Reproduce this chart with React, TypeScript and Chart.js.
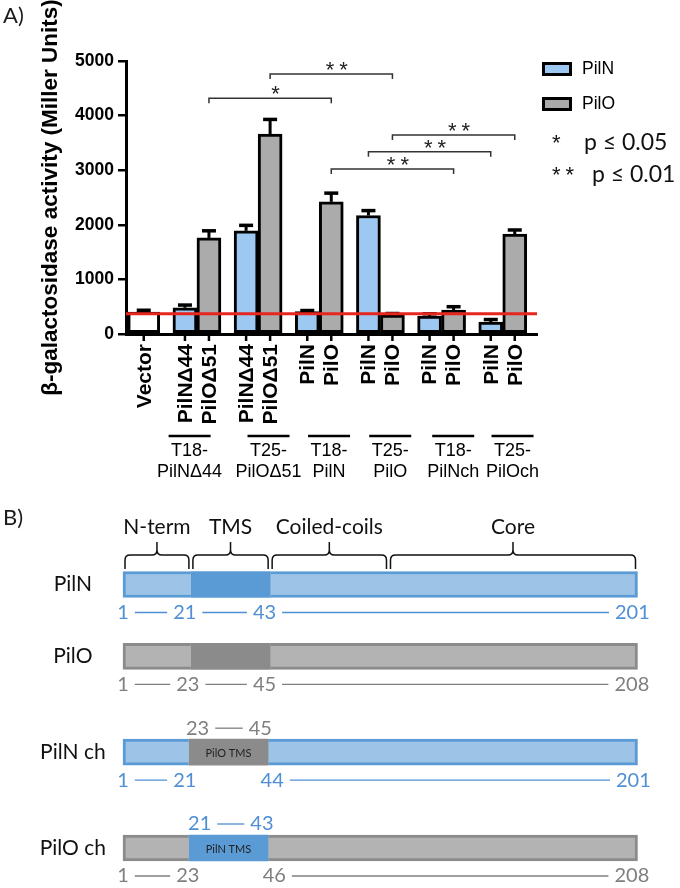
import React, { useEffect, useRef } from "react";
import { Chart, registerables } from "chart.js";

Chart.register(...registerables);

// ================= Panel A data =================
const vectorLabel = "Vector";
const vectorValues = [400];
const vectorErrors = [35];

const groupLabels = [
  ["T18-", "PilNΔ44"],
  ["T25-", "PilOΔ51"],
  ["T18-", "PilN"],
  ["T25-", "PilO"],
  ["T18-", "PilNch"],
  ["T25-", "PilOch"],
];
const pilNBarLabels = ["PilNΔ44", "PilNΔ44", "PilN", "PilN", "PilN", "PilN"];
const pilOBarLabels = ["PilOΔ51", "PilOΔ51", "PilO", "PilO", "PilO", "PilO"];
const pilNValues = [480, 1890, 410, 2170, 330, 220];
const pilNErrors = [50, 100, 20, 90, 40, 45];
const pilOValues = [1760, 3660, 2420, 345, 440, 1830];
const pilOErrors = [130, 270, 160, 30, 60, 75];
const baselineValue = 370;
const yTickValues = [0, 1000, 2000, 3000, 4000, 5000];

// significance brackets (group index into the six pairs, series name)
const sigLabels = ["*", "**", "**", "**", "**"];
const sigLevels = [4320, 4760, 3020, 3340, 3645];
const sigFromGroup = [0, 1, 2, 3, 3];
const sigFromSeries = ["PilO", "PilO", "PilO", "PilN", "PilO"];
const sigToGroup = [2, 3, 4, 5, 5];
const sigToSeries = ["PilO", "PilO", "PilO", "PilN", "PilO"];

const legendLabels = ["PilN", "PilO"];
const pStars = ["*", "**"];
const pTexts = ["p ≤ 0.05", "p ≤ 0.01"];

// ================= Panel B data =================
const rowNames = ["PilN", "PilO", "PilN ch", "PilO ch"];
const rowProtein = ["N", "O", "N", "O"];
const rowTmsOrigin = ["N", "O", "O", "N"];
const segNterm = [13.2, 13.2, 12.8, 12.8]; // share of schematic bar, %
const segTms = [15.4, 15.4, 15.4, 15.4];
const segRest = [71.4, 71.4, 71.8, 71.8];
const tmsText = ["", "", "PilO TMS", "PilN TMS"];
const domainNames = ["N-term", "TMS", "Coiled-coils", "Core"];
const domainStart = [0, 13.2, 28.6, 51.6];
const domainEnd = [13.2, 28.6, 51.6, 100];
const numsBelow = [
  ["1", "21", "43", "201"],
  ["1", "23", "45", "208"],
  ["1", "21", "44", "201"],
  ["1", "23", "46", "208"],
];
const numsBelowAt = [
  [0, 12, 27.5, 99],
  [0, 12.6, 27.5, 98.9],
  [0, 12, 29, 99.2],
  [0, 12.6, 29.4, 98.9],
];
const numsBelowLinked = [
  [true, true, true],
  [true, true, true],
  [true, false, true],
  [true, false, true],
];
const numsAbove = [[], [], ["23", "45"], ["21", "43"]];
const numsAboveAt = [[], [], [14.5, 26.7], [14.9, 27]];

// ================= layout / style =================
const FONT_A = "'Liberation Sans', Arial, Helvetica, sans-serif";
const FONT_B = "Lato, 'Open Sans', sans-serif";
const BLUE_BAR = "#9dc8f2";
const GREY_BAR = "#ababab";
const RED = "#e6261f";
const N_LIGHT = "#9dc3e6";
const N_DARK = "#5b9bd5";
const O_LIGHT = "#b3b3b3";
const O_DARK = "#8b8b8b";
const N_TEXT = "#4f8fd3";
const O_TEXT = "#7f7f7f";

const GROUP_X = [0.13, 1, 2, 3, 4, 5, 6];
const GROUP_LABEL_X = [0.88, 2.17, 3.16, 4.16, 5.19, 6.16];
const ROW_Y = [0, 3, 7, 11];

const seriesInfo = [
  { values: vectorValues, errors: vectorErrors, labels: [vectorLabel] },
  { values: pilNValues, errors: pilNErrors, labels: pilNBarLabels },
  { values: pilOValues, errors: pilOErrors, labels: pilOBarLabels },
];

function line(ctx: any, x1: number, y1: number, x2: number, y2: number) {
  ctx.beginPath();
  ctx.moveTo(x1, y1);
  ctx.lineTo(x2, y2);
  ctx.stroke();
}

const panelAPlugin = {
  id: "panelA",
  afterDatasetsDraw(chart: any) {
    const { ctx, chartArea, scales } = chart;
    const y = scales.y;
    ctx.save();
    ctx.strokeStyle = "#000";
    seriesInfo.forEach((s, di) => {
      const meta = chart.getDatasetMeta(di);
      meta.data.forEach((bar: any, i: number) => {
        const top = y.getPixelForValue(s.values[i] + s.errors[i]);
        ctx.lineWidth = 3;
        line(ctx, bar.x, bar.y, bar.x, top);
        ctx.lineWidth = 3.5;
        line(ctx, bar.x - 7, top, bar.x + 7, top);
      });
    });
    const yb = y.getPixelForValue(baselineValue);
    ctx.strokeStyle = RED;
    ctx.lineWidth = 3;
    line(ctx, chartArea.left, yb, chartArea.right, yb);
    ctx.restore();
  },
  afterDraw(chart: any) {
    const { ctx, chartArea, scales } = chart;
    const x = scales.x;
    const y = scales.y;
    ctx.save();
    // per-bar tick marks and rotated labels
    ctx.fillStyle = "#000";
    ctx.strokeStyle = "#000";
    seriesInfo.forEach((s, di) => {
      const meta = chart.getDatasetMeta(di);
      meta.data.forEach((bar: any, i: number) => {
        ctx.lineWidth = 2.5;
        line(ctx, bar.x, chartArea.bottom, bar.x, chartArea.bottom + 7);
        ctx.save();
        ctx.translate(bar.x, chartArea.bottom + 10);
        ctx.rotate(-Math.PI / 2);
        ctx.font = `bold 21px ${FONT_A}`;
        ctx.textAlign = "right";
        ctx.textBaseline = "middle";
        ctx.fillText(s.labels[i], 0, 1);
        ctx.restore();
      });
    });
    // overlines above group labels
    ctx.lineWidth = 2.5;
    groupLabels.forEach((_, g) => {
      const cx = x.getPixelForValue(GROUP_LABEL_X[g]);
      line(ctx, cx - 21, chartArea.bottom + 102, cx + 21, chartArea.bottom + 102);
    });
    // significance brackets
    const metaOf = (name: string) => chart.getDatasetMeta(name === "PilN" ? 1 : 2);
    ctx.strokeStyle = "#333";
    ctx.fillStyle = "#222";
    sigLabels.forEach((lab, k) => {
      const x1 = metaOf(sigFromSeries[k]).data[sigFromGroup[k]].x;
      const x2 = metaOf(sigToSeries[k]).data[sigToGroup[k]].x;
      const yl = y.getPixelForValue(sigLevels[k]);
      ctx.lineWidth = 1.5;
      ctx.beginPath();
      ctx.moveTo(x1, yl + 5);
      ctx.lineTo(x1, yl);
      ctx.lineTo(x2, yl);
      ctx.lineTo(x2, yl + 5);
      ctx.stroke();
      ctx.font = `22px ${FONT_A}`;
      (ctx as any).letterSpacing = "5px";
      ctx.textAlign = "center";
      ctx.textBaseline = "alphabetic";
      ctx.fillText(lab, (x1 + x2) / 2 + 8, yl + 3);
      (ctx as any).letterSpacing = "0px";
    });
    // legend
    const boxColors = [BLUE_BAR, GREY_BAR];
    legendLabels.forEach((lab, i) => {
      const by = 62 + i * 35;
      ctx.fillStyle = boxColors[i];
      ctx.fillRect(542, by, 30, 14);
      ctx.strokeStyle = "#000";
      ctx.lineWidth = 3;
      ctx.strokeRect(543.5, by + 1.5, 27, 11);
      ctx.fillStyle = "#000";
      ctx.font = `17.5px ${FONT_A}`;
      ctx.textAlign = "left";
      ctx.textBaseline = "middle";
      ctx.fillText(lab, 582, by + 7.5);
    });
    pStars.forEach((st, i) => {
      const base = 150 + i * 32;
      ctx.fillStyle = "#111";
      ctx.font = `22px ${FONT_A}`;
      (ctx as any).letterSpacing = "5px";
      ctx.textAlign = "left";
      ctx.textBaseline = "alphabetic";
      ctx.fillText(st, 552, base);
      (ctx as any).letterSpacing = "0px";
      ctx.font = `23px ${FONT_B}`;
      ctx.fillText(pTexts[i], i === 0 ? 584 : 592, base);
    });
    // panel letter
    ctx.fillStyle = "#1a1a1a";
    ctx.font = `22px ${FONT_B}`;
    ctx.textAlign = "left";
    ctx.textBaseline = "middle";
    ctx.fillText("A)", 3, 16);
    ctx.restore();
  },
};

function brace(ctx: any, x1: number, x2: number, yTip: number, yLine: number, yEnd: number) {
  const mid = (x1 + x2) / 2;
  const r = 5;
  ctx.beginPath();
  ctx.moveTo(x1, yEnd);
  ctx.lineTo(x1, yLine + r);
  ctx.quadraticCurveTo(x1, yLine, x1 + r, yLine);
  ctx.lineTo(mid - r, yLine);
  ctx.quadraticCurveTo(mid, yLine, mid, yLine - r);
  ctx.lineTo(mid, yTip);
  ctx.moveTo(mid, yLine - r);
  ctx.quadraticCurveTo(mid, yLine, mid + r, yLine);
  ctx.lineTo(x2 - r, yLine);
  ctx.quadraticCurveTo(x2, yLine, x2, yLine + r);
  ctx.lineTo(x2, yEnd);
  ctx.stroke();
}

function numberRow(ctx: any, xs: any, labels: string[], ats: number[], linked: boolean[], yy: number, color: string) {
  ctx.font = `20px ${FONT_B}`;
  ctx.fillStyle = color;
  ctx.strokeStyle = color;
  ctx.lineWidth = 1.3;
  ctx.textAlign = "center";
  ctx.textBaseline = "middle";
  const boxes = labels.map((t, i) => {
    const cx = xs.getPixelForValue(ats[i]);
    const w = ctx.measureText(t).width;
    ctx.fillText(t, cx, yy);
    return [cx - w / 2, cx + w / 2];
  });
  for (let i = 0; i < labels.length - 1; i++) {
    if (linked && !linked[i]) continue;
    line(ctx, boxes[i][1] + 6, yy, boxes[i + 1][0] - 6, yy);
  }
}

const panelBPlugin = {
  id: "panelB",
  afterDraw(chart: any) {
    const { ctx, scales } = chart;
    const x = scales.x;
    const y = scales.y;
    ctx.save();
    ctx.fillStyle = "#1a1a1a";
    ctx.font = `22px ${FONT_B}`;
    ctx.textAlign = "left";
    ctx.textBaseline = "middle";
    ctx.fillText("B)", 3, 38);
    // domain headers and braces
    ctx.strokeStyle = "#111";
    ctx.lineWidth = 1.5;
    domainNames.forEach((name, i) => {
      const x1 = x.getPixelForValue(domainStart[i]) + 2;
      const x2 = x.getPixelForValue(domainEnd[i]) - 2;
      brace(ctx, x1, x2, 62, 75, 89);
      ctx.fillStyle = "#111";
      ctx.font = `21px ${FONT_B}`;
      ctx.textAlign = "center";
      ctx.textBaseline = "middle";
      ctx.fillText(name, (x1 + x2) / 2, 47);
    });
    // TMS labels inside chimera segments
    const tmsMeta = chart.getDatasetMeta(1);
    tmsMeta.data.forEach((bar: any, r: number) => {
      if (!tmsText[r]) return;
      ctx.fillStyle = "#222";
      ctx.font = `11px ${FONT_B}`;
      ctx.textAlign = "center";
      ctx.textBaseline = "middle";
      ctx.fillText(tmsText[r], (bar.x + bar.base) / 2, bar.y + 1);
    });
    // residue numbers
    rowNames.forEach((_, r) => {
      const yr = y.getPixelForValue(ROW_Y[r]);
      numberRow(ctx, x, numsBelow[r], numsBelowAt[r], numsBelowLinked[r], yr + 28, rowProtein[r] === "N" ? N_TEXT : O_TEXT);
      if (numsAbove[r].length) {
        numberRow(ctx, x, numsAbove[r], numsAboveAt[r], [true], yr - 24, rowTmsOrigin[r] === "N" ? N_TEXT : O_TEXT);
      }
    });
    ctx.restore();
  },
};

export default function App() {
  const refA = useRef<HTMLCanvasElement>(null);
  const refB = useRef<HTMLCanvasElement>(null);

  useEffect(() => {
    const chartA = new Chart(refA.current as HTMLCanvasElement, {
      type: "bar",
      data: {
        datasets: [
          {
            label: vectorLabel,
            data: vectorValues.map((v) => ({ x: GROUP_X[0], y: v })),
            backgroundColor: "#ffffff",
            borderColor: "#000",
            borderWidth: 3,
            borderSkipped: false,
            barThickness: 32,
            skipNull: true,
          },
          {
            label: "PilN",
            data: pilNValues.map((v, i) => ({ x: GROUP_X[i + 1], y: v })),
            backgroundColor: BLUE_BAR,
            borderColor: "#000",
            borderWidth: 3,
            borderSkipped: false,
            barThickness: 24,
            skipNull: true,
          },
          {
            label: "PilO",
            data: pilOValues.map((v, i) => ({ x: GROUP_X[i + 1], y: v })),
            backgroundColor: GREY_BAR,
            borderColor: "#000",
            borderWidth: 3,
            borderSkipped: false,
            barThickness: 24,
            skipNull: true,
          },
        ] as any,
      },
      options: {
        responsive: false,
        animation: false,
        devicePixelRatio: 1,
        layout: { padding: { top: 61, right: 143, bottom: 0, left: 0 } },
        plugins: { legend: { display: false }, tooltip: { enabled: false } },
        scales: {
          x: {
            type: "linear",
            offset: false,
            min: -0.16,
            max: 6.56,
            afterBuildTicks: (s: any) => {
              s.ticks = GROUP_LABEL_X.map((v) => ({ value: v }));
            },
            afterFit: (s: any) => {
              s.height = 146;
            },
            grid: { display: false, drawTicks: false, offset: false },
            border: { display: true, color: "#000", width: 3 },
            ticks: {
              autoSkip: false,
              maxRotation: 0,
              minRotation: 0,
              padding: 106,
              color: "#000",
              font: { family: FONT_A, size: 18, lineHeight: 1.2 },
              callback: (_v: any, i: number) => groupLabels[i],
            },
          },
          y: {
            type: "linear",
            min: 0,
            max: 5000,
            afterBuildTicks: (s: any) => {
              s.ticks = yTickValues.map((v) => ({ value: v }));
            },
            afterFit: (s: any) => {
              s.width = 126;
            },
            grid: { drawOnChartArea: false, drawTicks: true, tickLength: 8, color: "#000", lineWidth: 2.5 },
            border: { display: true, color: "#000", width: 3 },
            ticks: {
              padding: 4,
              color: "#000",
              font: { family: FONT_A, size: 17.5, weight: "bold" },
              callback: (v: any) => String(v),
            },
            title: {
              display: true,
              text: "β-galactosidase activity (Miller Units)",
              color: "#000",
              font: { family: FONT_A, size: 22.5, weight: "bold" },
              padding: { top: 37, bottom: 0 },
            },
          },
        },
      } as any,
      plugins: [panelAPlugin],
    });

    const chartB = new Chart(refB.current as HTMLCanvasElement, {
      type: "bar",
      data: {
        datasets: [
          {
            label: "N-term",
            data: segNterm.map((v, r) => ({ x: v, y: ROW_Y[r] })),
            backgroundColor: (c: any) => (rowProtein[c.dataIndex] === "N" ? N_LIGHT : O_LIGHT),
            borderColor: (c: any) => (rowProtein[c.dataIndex] === "N" ? N_DARK : O_DARK),
            borderWidth: { top: 3, bottom: 3, left: 3, right: 0 },
            borderSkipped: false,
            barThickness: 26,
            clip: false,
          },
          {
            label: "TMS",
            data: segTms.map((v, r) => ({ x: v, y: ROW_Y[r] })),
            backgroundColor: (c: any) => (rowTmsOrigin[c.dataIndex] === "N" ? N_DARK : O_DARK),
            borderWidth: 0,
            barThickness: 26,
            clip: false,
          },
          {
            label: "Rest",
            data: segRest.map((v, r) => ({ x: v, y: ROW_Y[r] })),
            backgroundColor: (c: any) => (rowProtein[c.dataIndex] === "N" ? N_LIGHT : O_LIGHT),
            borderColor: (c: any) => (rowProtein[c.dataIndex] === "N" ? N_DARK : O_DARK),
            borderWidth: { top: 3, bottom: 3, left: 0, right: 3 },
            borderSkipped: false,
            barThickness: 26,
            clip: false,
          },
        ] as any,
      },
      options: {
        indexAxis: "y",
        responsive: false,
        animation: false,
        devicePixelRatio: 1,
        layout: { padding: { top: 104.5, right: 42.5, bottom: 40, left: 0 } },
        plugins: { legend: { display: false }, tooltip: { enabled: false } },
        scales: {
          x: { type: "linear", stacked: true, min: 0, max: 100, display: false, offset: false },
          y: {
            type: "linear",
            stacked: true,
            offset: false,
            min: 0,
            max: 11,
            reverse: true,
            afterBuildTicks: (s: any) => {
              s.ticks = ROW_Y.map((v) => ({ value: v }));
            },
            afterFit: (s: any) => {
              s.width = 123;
            },
            grid: { display: false, drawTicks: false, offset: false },
            border: { display: false },
            ticks: {
              crossAlign: "center",
              padding: 17,
              color: "#111",
              font: { family: FONT_B, size: 21 },
              callback: (_v: any, i: number) => rowNames[i],
            },
          },
        },
      } as any,
      plugins: [panelBPlugin],
    });

    return () => {
      chartA.destroy();
      chartB.destroy();
    };
  }, []);

  return (
    <div style={{ position: "absolute", left: 0, top: 0, width: 680, height: 888, background: "#fff" }}>
      <canvas ref={refA} width={680} height={480} style={{ display: "block" }} />
      <canvas ref={refB} width={680} height={408} style={{ display: "block" }} />
    </div>
  );
}
